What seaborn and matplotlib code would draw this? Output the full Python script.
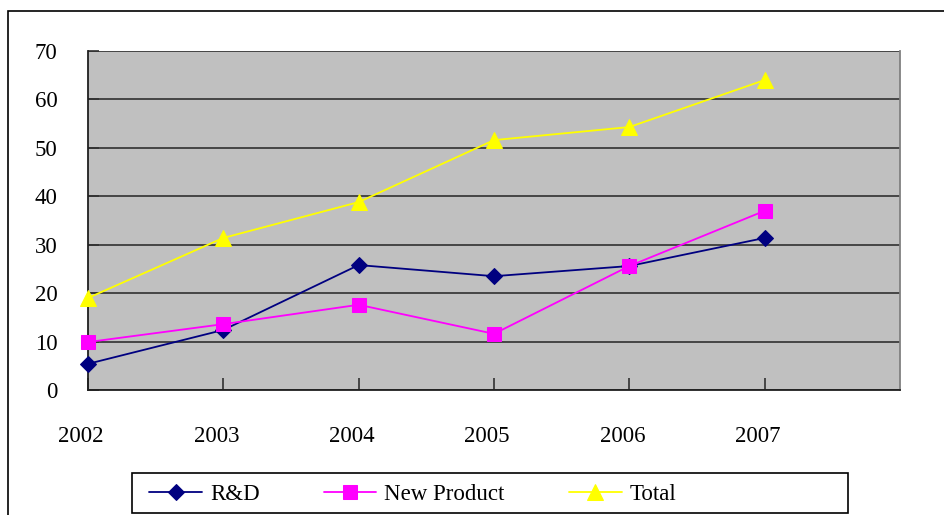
import matplotlib
matplotlib.use("Agg")
import matplotlib.pyplot as plt
import matplotlib.transforms as mtransforms
from matplotlib.patches import Rectangle
import seaborn as sns
import pandas as pd

# Data
years = [2002, 2003, 2004, 2005, 2006, 2007]
rd = [5.4, 12.4, 25.8, 23.5, 25.6, 31.4]
new_product = [9.9, 13.6, 17.6, 11.6, 25.6, 37.0]
total = [19.0, 31.4, 38.8, 51.6, 54.3, 64.0]
series_names = ["R&D", "New Product", "Total"]
y_ticks = [0, 10, 20, 30, 40, 50, 60, 70]

df = pd.DataFrame({"year": years, "R&D": rd, "New Product": new_product, "Total": total})
long_df = df.melt(id_vars="year", var_name="series", value_name="value")

sns.set_style("white")
plt.rcParams["font.family"] = ["Liberation Serif", "DejaVu Serif"]
plt.rcParams["text.color"] = "black"
plt.rcParams["xtick.color"] = "black"
plt.rcParams["ytick.color"] = "black"

fig = plt.figure(figsize=(9.44, 5.15), dpi=100)
ax = fig.add_axes([88 / 944, 1 - 390 / 515, (900 - 88) / 944, (390 - 51) / 515])
ax.set_facecolor("#C0C0C0")

colors = {"R&D": "#000080", "New Product": "#FF00FF", "Total": "#FFFF00"}
markers = {"R&D": "D", "New Product": "s", "Total": "^"}
sizes = {"R&D": 8, "New Product": 10, "Total": 11}

for name in series_names:
    sub = long_df[long_df["series"] == name]
    sns.lineplot(data=sub, x="year", y="value", ax=ax, color=colors[name],
                 marker=markers[name], markersize=sizes[name],
                 markeredgecolor=colors[name], linewidth=1.3, label=name,
                 zorder=3, clip_on=False)

ax.set_xlim(2002, 2008)
ax.set_ylim(0, 70)
ax.set_yticks(y_ticks)
ax.set_xticks(years)
ax.set_xticklabels([str(y) for y in years])
ax.yaxis.grid(True, color="#303030", linewidth=1.2)
ax.set_axisbelow(True)
ax.set_xlabel("")
ax.set_ylabel("")

ax.tick_params(axis="y", direction="in", length=8, width=1.2, color="#303030",
               pad=22, labelsize=16.5, labelcolor="black", left=True)
ax.tick_params(axis="x", direction="in", length=9, width=1.2, color="#303030",
               pad=26, labelsize=16.5, labelcolor="black", bottom=True)

# year labels sit a little left of their ticks in the original
shift = mtransforms.ScaledTranslation(-7 / 100, 0, fig.dpi_scale_trans)
for lbl in ax.get_xticklabels():
    lbl.set_transform(lbl.get_transform() + shift)

for side in ["left", "bottom"]:
    ax.spines[side].set_color("#202020")
    ax.spines[side].set_linewidth(1.3)
ax.spines["right"].set_color("#808080")
ax.spines["right"].set_linewidth(1.3)
ax.spines["top"].set_visible(False)

# legend at the bottom inside its own frame
handles, labels = ax.get_legend_handles_labels()
ax.get_legend().remove()
leg = fig.legend(handles, labels, loc="center left", ncol=3, frameon=False,
                 bbox_to_anchor=(140 / 944, 1 - 494 / 515), fontsize=16.5,
                 handlelength=2.3, handletextpad=0.35, columnspacing=2.8,
                 borderaxespad=0)
for t in leg.get_texts():
    t.set_color("black")

fig.patches.append(Rectangle((132 / 944, 1 - 513 / 515), (848 - 132) / 944, 40 / 515,
                             transform=fig.transFigure, fill=False,
                             edgecolor="black", linewidth=1.2))
# outer chart border
fig.patches.append(Rectangle((8 / 944, -0.05), 1.0, 1.05 - 11 / 515,
                             transform=fig.transFigure, fill=False,
                             edgecolor="black", linewidth=1.2))

fig.savefig("out.png", dpi=100, facecolor="white")
